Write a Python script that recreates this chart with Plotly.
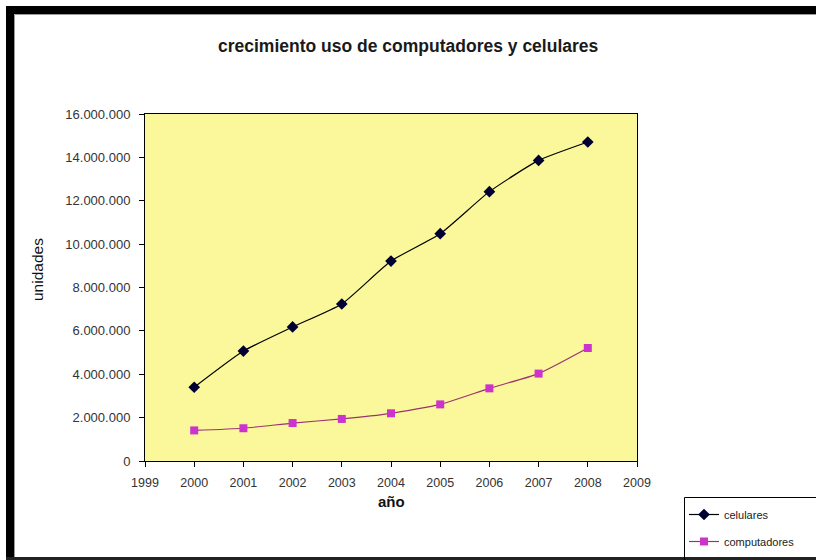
import plotly.graph_objects as go

years = [2000, 2001, 2002, 2003, 2004, 2005, 2006, 2007, 2008]
celulares = [3400000, 5070000, 6180000, 7240000, 9220000, 10480000, 12420000, 13860000, 14710000]
computadores = [1410000, 1510000, 1750000, 1940000, 2200000, 2610000, 3350000, 4030000, 5210000]
y_ticks = [0, 2000000, 4000000, 6000000, 8000000, 10000000, 12000000, 14000000, 16000000]
x_ticks = list(range(1999, 2010))

W, H = 816, 560
L, R, T, B = 145, 637, 114, 461
PW, PH = R - L, B - T

def px(x):
    return (x - L) / PW

def py(y):
    return (B - y) / PH

FONT = "Liberation Sans, Arial, sans-serif"

fig = go.Figure()
fig.add_trace(go.Scatter(
    x=years, y=celulares, name="celulares", mode="lines+markers",
    line=dict(color="#000000", width=1.2, shape="spline", smoothing=0.5),
    marker=dict(symbol="diamond", size=9, color="#000033"),
    legendgroup="a",
))
fig.add_trace(go.Scatter(
    x=years, y=computadores, name="computadores", mode="lines+markers",
    line=dict(color="#9A3470", width=1.2, shape="spline", smoothing=0.5),
    marker=dict(symbol="square", size=8, color="#CC33CC"),
    legendgroup="b",
))

shapes = [
    # outer black frame
    dict(type="rect", xref="paper", yref="paper", x0=px(6), x1=px(830), y0=py(6), y1=py(14),
         fillcolor="black", line=dict(width=0), layer="above"),
    dict(type="rect", xref="paper", yref="paper", x0=px(6), x1=px(14), y0=py(6), y1=py(570),
         fillcolor="black", line=dict(width=0), layer="above"),
    dict(type="rect", xref="paper", yref="paper", x0=px(6), x1=px(830), y0=py(557), y1=py(570),
         fillcolor="#222222", line=dict(width=0), layer="above"),
    dict(type="line", xref="paper", yref="paper", x0=px(14.5), x1=px(830), y0=py(14.5), y1=py(14.5),
         line=dict(color="#9a9a9a", width=1), layer="above"),
    dict(type="line", xref="paper", yref="paper", x0=px(14.5), x1=px(14.5), y0=py(14.5), y1=py(557),
         line=dict(color="#9a9a9a", width=1), layer="above"),
    # legend box
    dict(type="rect", xref="paper", yref="paper", x0=px(684.5), x1=px(830), y0=py(497.5), y1=py(570),
         fillcolor="rgba(0,0,0,0)", line=dict(color="black", width=1), layer="above"),
]

annotations = [
    dict(text="<b>crecimiento uso de computadores y celulares</b>", xref="paper", yref="paper",
         x=px(408), y=py(46), xanchor="center", yanchor="middle", showarrow=False,
         font=dict(family=FONT, size=17.5, color="#1a1a1a")),
    dict(text="unidades", xref="paper", yref="paper", textangle=-90,
         x=px(37), y=py(270), xanchor="center", yanchor="middle", showarrow=False,
         font=dict(family=FONT, size=15.5, color="#111111")),
    dict(text="<b>año</b>", xref="paper", yref="paper",
         x=px(391), y=py(501), xanchor="center", yanchor="middle", showarrow=False,
         font=dict(family=FONT, size=15, color="#111111")),
]

fig.update_layout(
    width=W, height=H,
    margin=dict(l=L, r=W - R, t=T, b=H - B, pad=0),
    paper_bgcolor="white",
    plot_bgcolor="#FBF89C",
    separators=",.",
    showlegend=True,
    legend=dict(
        xref="container", yref="container",
        x=684 / W, y=1 - 500 / H, xanchor="left", yanchor="top",
        bgcolor="rgba(0,0,0,0)", borderwidth=0,
        font=dict(family=FONT, size=11, color="#222222"),
        tracegroupgap=8, itemwidth=30,
    ),
    shapes=shapes,
    annotations=annotations,
    font=dict(family=FONT),
)

fig.update_xaxes(
    range=[1999, 2009], tickvals=x_ticks, ticktext=[str(v) for v in x_ticks],
    showgrid=False, zeroline=False, showline=True, linecolor="black", linewidth=1, mirror=True,
    ticks="outside", ticklen=5, tickcolor="black", ticklabelstandoff=5,
    tickfont=dict(family=FONT, size=12.5, color="#333333"),
)
fig.update_yaxes(
    range=[0, 16000000], tickvals=y_ticks, tickformat=",d",
    showgrid=False, zeroline=False, showline=True, linecolor="black", linewidth=1, mirror=True,
    ticks="outside", ticklen=5, tickcolor="black", ticklabelstandoff=6,
    tickfont=dict(family=FONT, size=13, color="#333333"),
)

fig.write_html(
    "out.html",
    config={"displayModeBar": False},
    post_script="document.body.style.margin='0';document.body.style.overflow='hidden';",
)
